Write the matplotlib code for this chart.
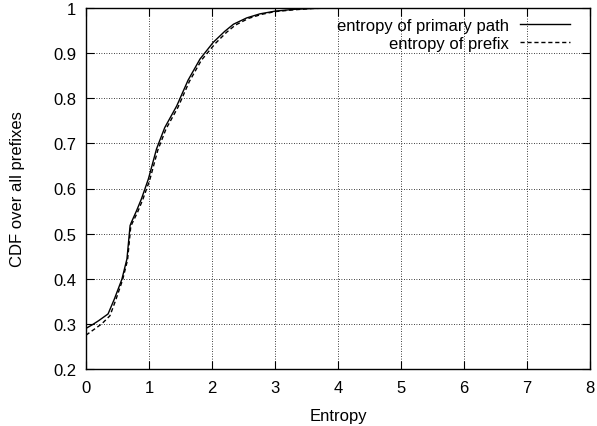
import matplotlib
matplotlib.use("Agg")
import matplotlib.pyplot as plt

# solid curve: entropy of primary path
path_x = [0.0, 0.1, 0.2, 0.35, 0.45, 0.57, 0.65, 0.70, 0.72, 0.80, 0.88, 0.99,
          1.12, 1.25, 1.44, 1.62, 1.81, 2.02, 2.20, 2.34, 2.55, 2.76, 3.0, 3.3, 3.6, 4.0]
path_y = [0.290, 0.298, 0.307, 0.322, 0.355, 0.399, 0.444, 0.518, 0.525, 0.550, 0.577, 0.621,
          0.688, 0.735, 0.783, 0.840, 0.887, 0.924, 0.948, 0.964, 0.978, 0.987, 0.993, 0.997, 0.999, 1.0]

# dashed curve: entropy of prefix
prefix_x = [0.0, 0.1, 0.25, 0.38, 0.47, 0.58, 0.66, 0.71, 0.73, 0.82, 0.90, 1.01,
            1.14, 1.27, 1.46, 1.64, 1.83, 2.05, 2.23, 2.37, 2.58, 2.79, 3.0, 3.3, 3.6, 4.0]
prefix_y = [0.275, 0.285, 0.300, 0.318, 0.352, 0.397, 0.442, 0.515, 0.522, 0.548, 0.575, 0.618,
            0.685, 0.732, 0.780, 0.837, 0.884, 0.921, 0.946, 0.962, 0.977, 0.986, 0.992, 0.996, 0.999, 1.0]

x_ticks = [0, 1, 2, 3, 4, 5, 6, 7, 8]
y_ticks = [0.2, 0.3, 0.4, 0.5, 0.6, 0.7, 0.8, 0.9, 1.0]
y_labels = ["0.2", "0.3", "0.4", "0.5", "0.6", "0.7", "0.8", "0.9", "1"]

plt.rcParams["font.family"] = ["Liberation Sans", "DejaVu Sans"]
plt.rcParams["font.size"] = 12

fig = plt.figure(figsize=(5.97, 4.27), dpi=100)
ax = fig.add_axes([86 / 597, 57 / 427, 504 / 597, 361 / 427])

ax.plot(path_x, path_y, color="black", lw=1.0, label="entropy of primary path")
ax.plot(prefix_x, prefix_y, color="black", lw=1.0, ls=(0, (3, 2)), label="entropy of prefix")

ax.set_xlim(0, 8)
ax.set_ylim(0.2, 1.0)
ax.set_xticks(x_ticks)
ax.set_yticks(y_ticks)
ax.set_yticklabels(y_labels)
ax.tick_params(direction="in", top=True, right=True, length=6, width=0.8, pad=7)
ax.tick_params(axis="x", pad=8)
ax.grid(True, color="black", ls=(0, (1, 2)), lw=0.6)
for s in ax.spines.values():
    s.set_linewidth(1.0)

ax.set_xlabel("Entropy", labelpad=9)
ax.set_ylabel("CDF over all prefixes", labelpad=20)

ax.legend(loc="upper right", bbox_to_anchor=(0.97, 0.986), frameon=False, markerfirst=False,
          handlelength=3.0, borderaxespad=0.0, borderpad=0.3, labelspacing=0.15,
          handletextpad=0.66)

fig.savefig("out.png", dpi=100)
